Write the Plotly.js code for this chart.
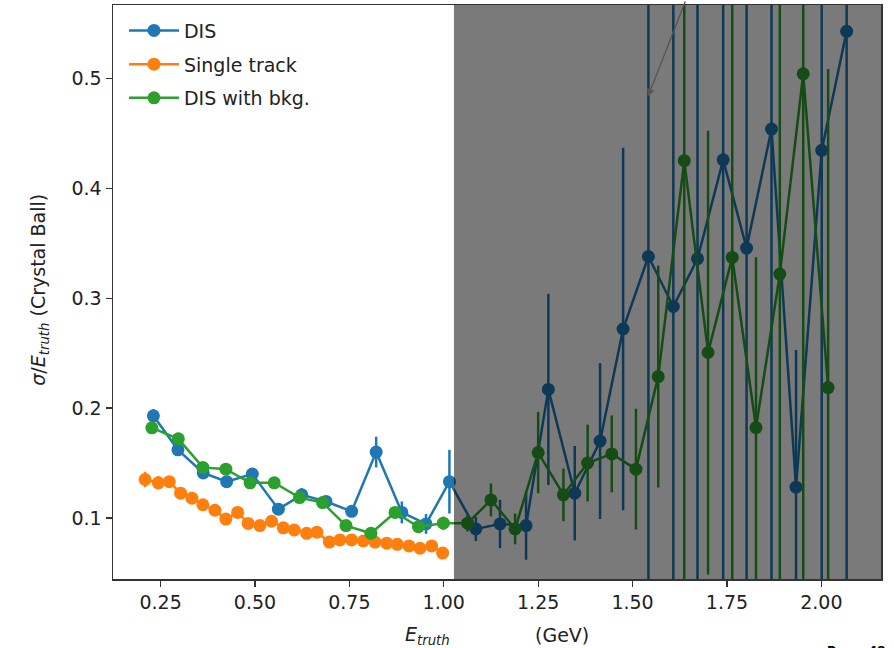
<!DOCTYPE html>
<html>
<head>
<meta charset="utf-8">
<script src="https://cdn.plot.ly/plotly-3.0.1.min.js"></script>
<style>html,body{margin:0;padding:0;background:#fff;}#chart{width:894px;height:648px;}</style>
</head>
<body>
<div id="chart"></div>
<script>
// DIS (blue)
const disX = [0.231,0.296,0.363,0.425,0.493,0.562,0.624,0.688,0.756,0.821,0.889,0.953,1.015,1.085,1.149,1.218,1.277,1.347,1.414,1.475,1.542,1.608,1.672,1.740,1.802,1.868,1.933,2.001,2.067];
const disY = [0.193,0.162,0.141,0.133,0.140,0.108,0.121,0.115,0.106,0.160,0.105,0.0945,0.133,0.090,0.0945,0.093,0.217,0.1225,0.170,0.272,0.338,0.2925,0.336,0.426,0.3457,0.454,0.128,0.4347,0.543];
const disErr = [0.006,0.004,0.004,0.004,0.004,0.004,0.006,0.005,0.005,0.014,0.010,0.009,0.029,0.011,0.022,0.031,0.087,0.043,0.071,0.165,0.40,0.40,0.40,0.45,0.40,0.45,0.125,0.45,0.55];

// Single track (orange)
const singleX = [0.209,0.244,0.273,0.303,0.333,0.362,0.394,0.423,0.454,0.482,0.513,0.544,0.575,0.604,0.637,0.664,0.697,0.725,0.756,0.787,0.818,0.849,0.877,0.908,0.937,0.968,0.997];
const singleY = [0.135,0.132,0.133,0.1225,0.118,0.112,0.107,0.099,0.105,0.095,0.093,0.097,0.091,0.089,0.086,0.087,0.078,0.080,0.080,0.079,0.078,0.077,0.076,0.0745,0.0724,0.0745,0.068];
const singleErr = [0.007,0.006,0.005,0.005,0.004,0.004,0.004,0.004,0.004,0.004,0.003,0.003,0.003,0.003,0.003,0.003,0.003,0.003,0.003,0.003,0.003,0.003,0.003,0.003,0.003,0.003,0.003];

// DIS with bkg. (green)
const bkgX = [0.227,0.297,0.362,0.423,0.487,0.551,0.618,0.679,0.741,0.807,0.871,0.933,0.999,1.063,1.125,1.189,1.250,1.317,1.381,1.445,1.509,1.568,1.637,1.700,1.764,1.827,1.890,1.952,2.018];
const bkgY = [0.182,0.172,0.146,0.1444,0.132,0.132,0.1185,0.114,0.093,0.086,0.105,0.092,0.0952,0.0952,0.1164,0.090,0.1595,0.121,0.150,0.1583,0.1444,0.2287,0.4253,0.2506,0.3372,0.1823,0.322,0.5043,0.2187];
const bkgErr = [0.005,0.005,0.004,0.004,0.004,0.004,0.004,0.004,0.004,0.004,0.005,0.005,0.006,0.0075,0.015,0.014,0.037,0.024,0.035,0.035,0.055,0.101,0.42,0.202,0.35,0.155,0.35,0.5,0.29];

const seriesNames = ['DIS','Single track','DIS with bkg.'];
const colors = ['#1f77b4','#ff7f0e','#2ca02c'];

const xTicks = [0.25,0.50,0.75,1.00,1.25,1.50,1.75,2.00];
const yTicks = [0.1,0.2,0.3,0.4,0.5];

function mk(x,y,e,i){
  return {
    type:'scatter', mode:'lines+markers', x:x, y:y, name:seriesNames[i],
    legendgroup:'g'+i,
    line:{color:colors[i], width:2.5},
    marker:{color:colors[i], size:13, symbol:'circle'},
    error_y:{type:'data', array:e, visible:true, color:colors[i], thickness:2.5, width:0},
    cliponaxis:true
  };
}

const data = [mk(disX,disY,disErr,0), mk(singleX,singleY,singleErr,1), mk(bkgX,bkgY,bkgErr,2)];

const font = {family:'DejaVu Sans, sans-serif', size:19, color:'#222'};

const layout = {
  width:894, height:648,
  margin:{l:113, r:13, t:5, b:69},
  paper_bgcolor:'#fff', plot_bgcolor:'#fff',
  font:font,
  showlegend:true,
  legend:{x:0.0143, y:0.9885, xanchor:'left', yanchor:'top', bgcolor:'rgba(255,255,255,0)',
          font:{family:'DejaVu Sans, sans-serif', size:19, color:'#222'},
          traceorder:'grouped', tracegroupgap:6, itemwidth:50},
  xaxis:{range:[0.124,2.158], tickvals:xTicks, ticktext:xTicks.map(v=>v.toFixed(2)),
         ticks:'outside', ticklen:6, tickwidth:1.3, tickcolor:'#333',
         showline:true, linecolor:'#333', linewidth:1.5, mirror:true,
         showgrid:false, zeroline:false, tickfont:font},
  yaxis:{range:[0.0444,0.567], tickvals:yTicks, ticktext:yTicks.map(v=>v.toFixed(1)),
         ticks:'outside', ticklen:6, tickwidth:1.3, tickcolor:'#333',
         showline:true, linecolor:'#333', linewidth:1.5, mirror:true,
         showgrid:false, zeroline:false, tickfont:font},
  shapes:[{type:'rect', xref:'x', yref:'paper', x0:1.027, x1:2.158, y0:0, y1:1,
           fillcolor:'rgba(0,0,0,0.52)', line:{width:0}, layer:'above'}],
  annotations:[
    {xref:'x', yref:'y', x:1.5407, y:0.4836, ax:38, ay:-102, text:'', showarrow:true,
     arrowhead:2, arrowsize:1.2, arrowwidth:1.3, arrowcolor:'#555'},
    {xref:'paper', yref:'paper', x:0.4089, y:-0.0976, xanchor:'center', yanchor:'middle',
     text:'<i>E</i><sub><i>truth</i></sub>', showarrow:false, font:font},
    {xref:'paper', yref:'paper', x:0.5846, y:-0.0976, xanchor:'center', yanchor:'middle',
     text:'(GeV)', showarrow:false, font:font},
    {xref:'paper', yref:'paper', x:-0.095, y:0.504, xanchor:'center', yanchor:'middle', textangle:-90,
     text:'<i>σ</i>/<i>E</i><sub><i>truth</i></sub> (Crystal Ball)', showarrow:false, font:font},
    {xref:'paper', yref:'paper', x:0.968, y:-0.110, xanchor:'center', yanchor:'top',
     text:'<b>Page  48</b>', showarrow:false, font:{family:'DejaVu Sans, sans-serif', size:12, color:'#000'}}
  ]
};

Plotly.newPlot('chart', data, layout, {displayModeBar:false, staticPlot:true});
</script>
</body>
</html>
